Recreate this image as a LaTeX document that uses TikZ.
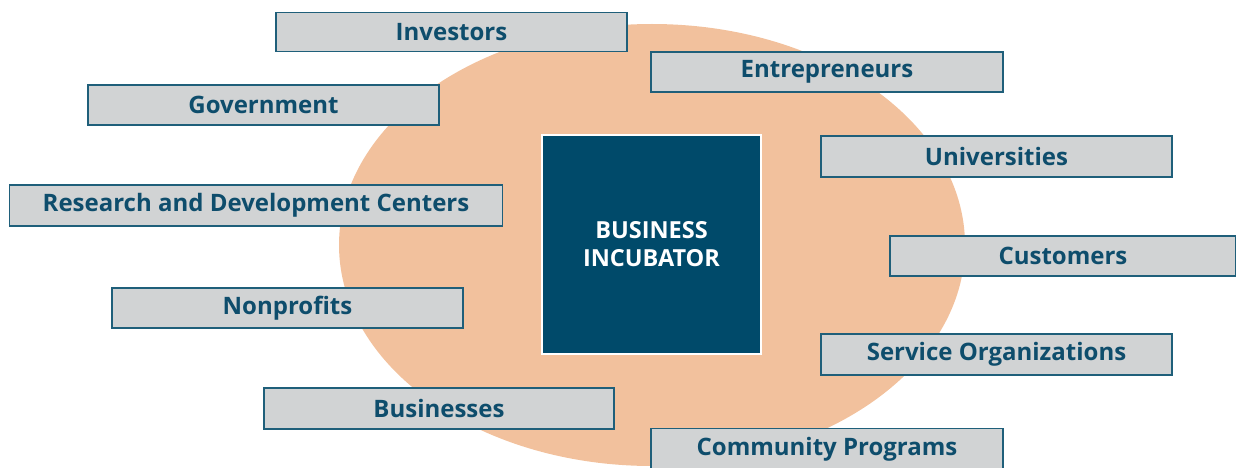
\documentclass[tikz,border=0pt]{standalone}
\usepackage{fontspec}
\setmainfont{Open Sans}
\definecolor{boxfill}{HTML}{D1D3D4}
\definecolor{boxline}{HTML}{1F5F7A}
\definecolor{boxtext}{HTML}{0E4D6C}
\definecolor{incub}{HTML}{004A6A}
\definecolor{blob}{HTML}{F2C19D}
\begin{document}
\begin{tikzpicture}[x=1pt,y=-1pt,
  actor/.style={draw=boxline,line width=1.8pt,fill=boxfill,inner sep=0pt,
    text=boxtext,font=\fontsize{24}{28}\selectfont\bfseries},
]
\useasboundingbox (0,0) rectangle (1236,468);
\fill[blob] (652,245) ellipse [x radius=313, y radius=221];
\node[draw=white,line width=2pt,fill=incub,minimum width=219pt,minimum height=219pt,
  text=white,align=center,font=\fontsize{23.5}{28}\selectfont\bfseries] (inc) at (651.5,244.5) {BUSINESS\\INCUBATOR};
\node[actor,minimum width=351pt,minimum height=39pt] (inv) at (451.5,32) {Investors};
\node[actor,minimum width=352pt,minimum height=40pt] (ent) at (827,72) {Entrepreneurs};
\node[actor,minimum width=351pt,minimum height=40pt] (gov) at (263.5,105) {Government};
\node[actor,minimum width=351pt,minimum height=41pt] (uni) at (996.5,156.5) {Universities};
\node[actor,minimum width=493pt,minimum height=41pt] (rdc) at (256,205.5) {Research and Development Centers};
\node[actor,minimum width=346pt,minimum height=40pt] (cus) at (1063,256) {Customers};
\node[actor,minimum width=351pt,minimum height=40pt] (npr) at (287.5,308) {Nonprofits};
\node[actor,minimum width=351pt,minimum height=41pt] (ser) at (996.5,354.5) {Service Organizations};
\node[actor,minimum width=350pt,minimum height=41pt] (bus) at (439,408.5) {Businesses};
\node[actor,minimum width=352pt,minimum height=42pt] (com) at (827,449.5) {Community Programs};
\end{tikzpicture}
\end{document}
